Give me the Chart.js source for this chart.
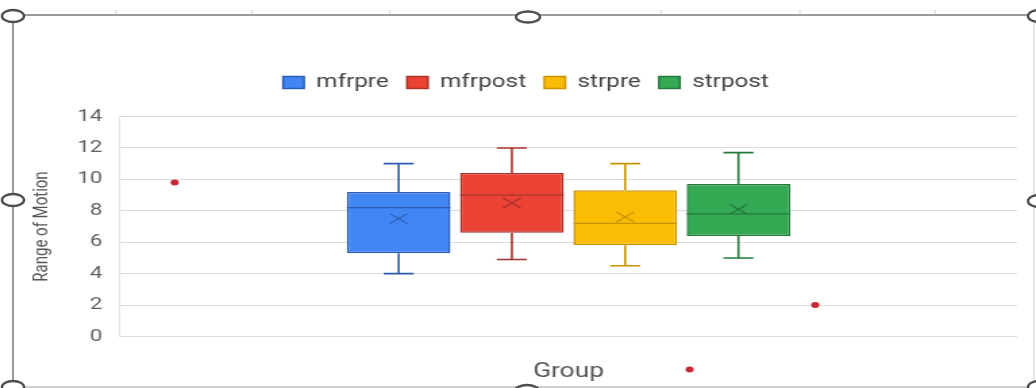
<!DOCTYPE html>
<html>
<head>
<meta charset="utf-8">
<title>Range of Motion by Group</title>
<script src="https://cdn.jsdelivr.net/npm/chart.js@4.4.0/dist/chart.umd.min.js"></script>
<style>
  html, body { margin: 0; padding: 0; background: #fff; }
  #wrap { position: relative; width: 1036px; height: 388px; overflow: hidden; background: #fff; }
  #chart { position: absolute; left: 0; top: 0; }
  #frame { position: absolute; left: 0; top: 0; pointer-events: none; }
</style>
</head>
<body>
<div id="wrap">
  <!-- drawn at 767px wide and shown at 1036px, giving the wide lettering -->
  <canvas id="chart" width="767" height="388" style="width:1036px;height:388px"></canvas>
  <svg id="frame" width="1036" height="388" viewBox="0 0 1036 388">
    <g stroke="#cfcfcf" stroke-width="1">
      <line x1="116" y1="10" x2="116" y2="15"/>
      <line x1="252" y1="10" x2="252" y2="15"/>
      <line x1="390" y1="10" x2="390" y2="15"/>
      <line x1="661" y1="10" x2="661" y2="15"/>
      <line x1="800" y1="10" x2="800" y2="15"/>
      <line x1="935" y1="10" x2="935" y2="15"/>
    </g>
    <line x1="13" y1="15" x2="1036" y2="15" stroke="#7a7a7a" stroke-width="1.5"/>
    <line x1="13" y1="15" x2="13" y2="388" stroke="#7a7a7a" stroke-width="1.5"/>
    <line x1="1034" y1="15" x2="1034" y2="388" stroke="#d0d0d0" stroke-width="1"/>
    <line x1="13" y1="387" x2="1036" y2="387" stroke="#a0a0a0" stroke-width="1"/>
    <g fill="#fff" stroke="#4f4f4f" stroke-width="2.5">
      <ellipse cx="13" cy="16" rx="11" ry="6"/>
      <ellipse cx="528" cy="17" rx="12" ry="5.5"/>
      <ellipse cx="1039" cy="16" rx="11" ry="6"/>
      <ellipse cx="13" cy="200" rx="11" ry="6"/>
      <ellipse cx="1039" cy="201" rx="11" ry="6"/>
      <ellipse cx="13" cy="387" rx="11" ry="6"/>
      <ellipse cx="527" cy="391" rx="12" ry="6"/>
      <ellipse cx="1039" cy="387" rx="11" ry="6"/>
    </g>
  </svg>
</div>
<script>
// Box-and-whisker summary for each series
const seriesNames = ['mfrpre', 'mfrpost', 'strpre', 'strpost'];
const categories  = ['Group'];
const minVals     = [4.0, 4.9, 4.5, 5.0];
const q1Vals      = [5.3, 6.6, 5.8, 6.4];
const medianVals  = [8.2, 9.0, 7.2, 7.8];
const meanVals    = [7.5, 8.5, 7.6, 8.1];
const q3Vals      = [9.2, 10.4, 9.3, 9.7];
const maxVals     = [11.0, 12.0, 11.0, 11.7];
const yTicks      = [0, 2, 4, 6, 8, 10, 12, 14];

// single points spread across the group axis (0 = left edge, 1 = right edge)
const dotPos  = [0.061, 0.775, 0.635];
const dotVals = [9.8, 2.0, -2.1];

const fills = ['#4285f4', '#ea4335', '#fbbc04', '#34a853'];
const edges = ['#2c5cb0', '#a8332b', '#c89500', '#24793d'];
const dotColor = '#c62832';

Chart.defaults.font.family = 'Roboto';

// whiskers, median line and mean cross over each floating bar, then the single points
const boxDetails = {
  id: 'boxDetails',
  afterDatasetsDraw(chart) {
    const ctx = chart.ctx;
    const yScale = chart.scales.y;
    const xPos = chart.scales.x2;
    const py = v => yScale.getPixelForValue(v);
    ctx.save();
    seriesNames.forEach((name, i) => {
      const meta = chart.getDatasetMeta(i);
      if (meta.hidden || !meta.data[0]) return;
      const bar = meta.data[0];
      const cx = bar.x, w = bar.width;
      const cap = w * 0.29;
      ctx.strokeStyle = edges[i];
      ctx.lineWidth = 1.6;
      ctx.beginPath();
      ctx.moveTo(cx, py(q3Vals[i]));           ctx.lineTo(cx, py(maxVals[i]));
      ctx.moveTo(cx - cap / 2, py(maxVals[i])); ctx.lineTo(cx + cap / 2, py(maxVals[i]));
      ctx.moveTo(cx, py(q1Vals[i]));           ctx.lineTo(cx, py(minVals[i]));
      ctx.moveTo(cx - cap / 2, py(minVals[i])); ctx.lineTo(cx + cap / 2, py(minVals[i]));
      ctx.stroke();

      ctx.lineWidth = 1.2;
      ctx.beginPath();
      ctx.moveTo(cx - w / 2, py(medianVals[i])); ctx.lineTo(cx + w / 2, py(medianVals[i]));
      ctx.stroke();

      const my = py(meanVals[i]);
      ctx.beginPath();
      ctx.moveTo(cx - 6.6, my - 5); ctx.lineTo(cx + 6.6, my + 5);
      ctx.moveTo(cx - 6.6, my + 5); ctx.lineTo(cx + 6.6, my - 5);
      ctx.stroke();
    });

    ctx.fillStyle = dotColor;
    dotPos.forEach((p, k) => {
      ctx.beginPath();
      ctx.arc(xPos.getPixelForValue(p), py(dotVals[k]), 3, 0, Math.PI * 2);
      ctx.fill();
    });
    ctx.restore();
  }
};

const boxSets = seriesNames.map((name, i) => ({
  label: name,
  data: [[q1Vals[i], q3Vals[i]]],
  backgroundColor: fills[i],
  borderColor: edges[i],
  borderWidth: 1.5,
  borderSkipped: false,
  categoryPercentage: 0.505,
  barPercentage: 0.915
}));

new Chart(document.getElementById('chart'), {
  type: 'bar',
  data: { labels: categories, datasets: boxSets },
  options: {
    responsive: false,
    devicePixelRatio: 1,
    animation: false,
    layout: { padding: { left: 25.8, right: 14, top: 60, bottom: 0 } },
    plugins: {
      legend: {
        position: 'top',
        align: 'center',
        weight: 1000,
        labels: {
          boxWidth: 15.5,
          boxHeight: 12,
          padding: 13.5,
          color: '#444',
          font: { family: 'Roboto', size: 18 }
        }
      },
      subtitle: {
        display: true,
        text: '',
        weight: 500,
        font: { size: 10, lineHeight: 1 },
        padding: { top: 0, bottom: 5 }
      },
      tooltip: { enabled: false }
    },
    scales: {
      x: {
        type: 'category',
        offset: true,
        grid: { display: false },
        border: { display: false },
        ticks: { display: false },
        title: {
          display: true,
          text: 'Group',
          color: '#555',
          font: { family: 'Roboto', size: 19.5 },
          padding: { top: 0, bottom: 4.5 }
        },
        afterFit: s => { s.height = 51.5; }
      },
      x2: { type: 'linear', display: false, offset: false, min: 0, max: 1 },
      y: {
        min: 0,
        max: 14,
        afterBuildTicks: s => { s.ticks = yTicks.map(v => ({ value: v })); },
        grid: { color: '#dcdcdc', drawTicks: false },
        border: { display: true, color: '#e3e3e3' },
        ticks: { padding: 13, color: '#616161', font: { family: 'Roboto', size: 16.5 } },
        title: {
          display: true,
          text: 'Range of Motion',
          color: '#555',
          font: { family: 'Roboto', size: 15 },
          padding: { top: -4, bottom: 0 }
        },
        afterFit: s => { s.width = 63; }
      }
    }
  },
  plugins: [boxDetails]
});
</script>
</body>
</html>
